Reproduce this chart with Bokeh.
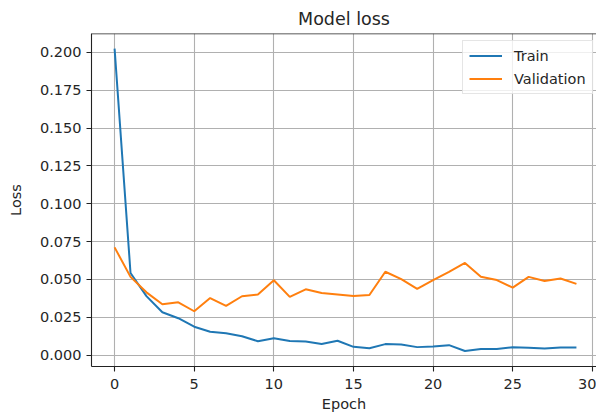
from bokeh.plotting import figure
from bokeh.models import Range1d, FixedTicker, NumeralTickFormatter, Legend, LegendItem, Span
from bokeh.embed import file_html
from bokeh.resources import INLINE

epochs = list(range(30))
train_loss = [0.2025, 0.0543, 0.0390, 0.0283, 0.0244, 0.0188, 0.0155, 0.0144, 0.0125, 0.0092,
              0.0112, 0.0093, 0.0090, 0.0073, 0.0095, 0.0055, 0.0046, 0.0073, 0.0071, 0.0053,
              0.0057, 0.0066, 0.0027, 0.0040, 0.0040, 0.0052, 0.0049, 0.0044, 0.0050, 0.0050]
val_loss = [0.0712, 0.0517, 0.0415, 0.0336, 0.0349, 0.0290, 0.0377, 0.0325, 0.0389, 0.0401,
            0.0495, 0.0385, 0.0435, 0.0410, 0.0401, 0.0391, 0.0397, 0.0551, 0.0502, 0.0438,
            0.0496, 0.0550, 0.0609, 0.0518, 0.0496, 0.0446, 0.0517, 0.0490, 0.0506, 0.0471]
x_ticks = [0, 5, 10, 15, 20, 25, 30]
y_ticks = [0.0, 0.025, 0.05, 0.075, 0.1, 0.125, 0.15, 0.175, 0.2]

FONT = "DejaVu Sans"
TXT = "#262626"

p = figure(width=596, height=415, output_backend="svg", toolbar_location=None,
           x_range=Range1d(-1.45, 30.26), y_range=Range1d(-0.0075, 0.2125),
           min_border_left=91, min_border_right=0, min_border_top=33, min_border_bottom=49,
           title="Model loss")
p.outline_line_color = None
p.background_fill_color = "white"
p.border_fill_color = "white"

p.title.text_font = FONT
p.title.text_font_size = "17.5px"
p.title.text_font_style = "normal"
p.title.text_color = TXT
p.title.align = "center"
p.title.offset = 0

for ax in (p.xaxis[0], p.yaxis[0]):
    ax.axis_line_color = "#222222"
    ax.axis_line_width = 1.1
    ax.major_tick_line_color = "#222222"
    ax.major_tick_line_width = 1.1
    ax.major_tick_out = 5
    ax.major_tick_in = 0
    ax.minor_tick_out = 0
    ax.minor_tick_in = 0
    ax.major_label_text_font = FONT
    ax.major_label_text_font_size = "14.5px"
    ax.major_label_text_color = TXT
    ax.axis_label_text_font = FONT
    ax.axis_label_text_font_size = "14.5px"
    ax.axis_label_text_font_style = "normal"
    ax.axis_label_text_color = TXT
    ax.major_label_standoff = 5

p.xaxis.ticker = FixedTicker(ticks=x_ticks)
p.yaxis.ticker = FixedTicker(ticks=y_ticks)
p.yaxis.formatter = NumeralTickFormatter(format="0.000")
p.xaxis.axis_label = "Epoch"
p.yaxis.axis_label = "Loss"
p.xaxis.major_label_standoff = 7
p.xaxis.axis_label_standoff = 4
p.yaxis.axis_label_standoff = 13

p.grid.grid_line_color = "#b0b0b0"
p.grid.grid_line_width = 1.1

top_spine = Span(location=0.2125, dimension="width", line_color="#222222", line_width=1.6)
p.add_layout(top_spine)

r1 = p.line(epochs, train_loss, line_color="#1f77b4", line_width=2.0)
r2 = p.line(epochs, val_loss, line_color="#ff7f0e", line_width=2.0)

legend = Legend(items=[LegendItem(label="Train", renderers=[r1]),
                       LegendItem(label="Validation", renderers=[r2])],
                location=(371, 272))
legend.label_text_font = FONT
legend.label_text_font_size = "14.5px"
legend.label_text_color = TXT
legend.glyph_width = 33
legend.glyph_height = 17
legend.label_height = 17
legend.label_standoff = 12
legend.spacing = 6
legend.padding = 6
legend.margin = 0
legend.border_line_color = "#cccccc"
legend.border_line_width = 1
legend.background_fill_alpha = 0.8
p.add_layout(legend)

open("out.html", "w").write(file_html(p, INLINE))
